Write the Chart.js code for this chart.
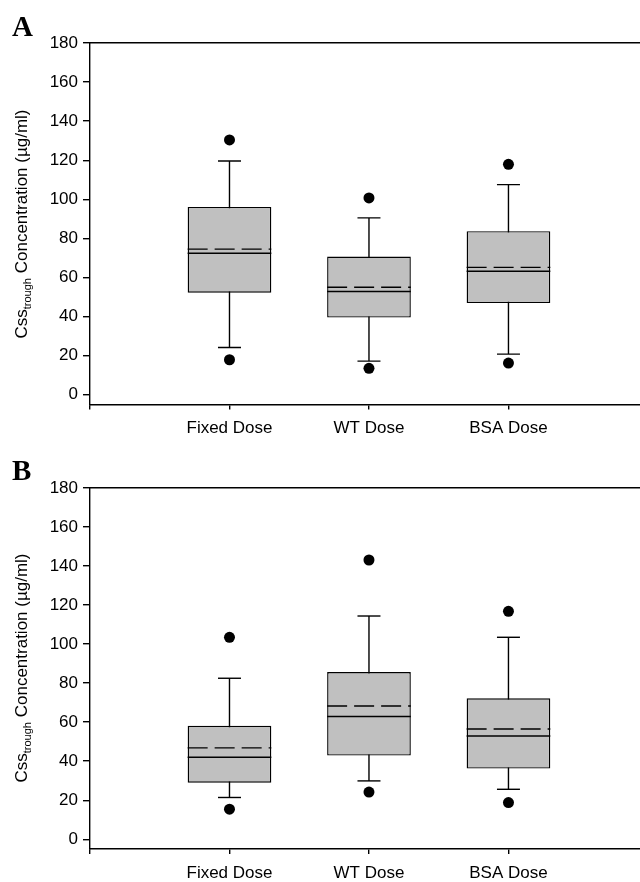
<!DOCTYPE html>
<html>
<head>
<meta charset="utf-8">
<script src="https://cdn.jsdelivr.net/npm/chart.js@4.4.1/dist/chart.umd.min.js"></script>
<style>
  html, body { margin: 0; padding: 0; background: #fff; }
  body { width: 640px; height: 882px; position: relative; overflow: hidden; font-family: "Liberation Sans", Arial, sans-serif; }
  .panel { position: absolute; left: 0; width: 640px; }
  .letter { position: absolute; font-family: "Liberation Serif", "Times New Roman", serif; font-weight: bold; font-size: 29px; line-height: 1; color: #000; }
  .ytitle { position: absolute; white-space: nowrap; font-size: 17px; line-height: 1; color: #000;
            transform: translate(-50%, -50%) rotate(-90deg); }
  .ytitle sub { font-size: 11px; vertical-align: -4px; }
</style>
</head>
<body>
<div class="panel" style="top:0;height:440px;"><canvas id="cA" width="640" height="440"></canvas></div>
<div class="panel" style="top:444px;height:438px;"><canvas id="cB" width="640" height="438"></canvas></div>
<div class="letter" style="left:12px;top:12px;">A</div>
<div class="letter" style="left:12px;top:456px;">B</div>
<div class="ytitle" style="left:23px;top:224px;">Css<sub>trough</sub> Concentration (µg/ml)</div>
<div class="ytitle" style="left:23px;top:668px;">Css<sub>trough</sub> Concentration (µg/ml)</div>
<script>
// ---- data ----
const categories = ['Fixed Dose', 'WT Dose', 'BSA Dose'];
const yTicks = [0, 20, 40, 60, 80, 100, 120, 140, 160, 180];

// Panel A
const aQ1      = [52.2, 39.5, 46.9];
const aQ3      = [96.1, 70.7, 83.7];
const aMedian  = [72.4, 52.8, 63.2];
const aMean    = [74.5, 55.0, 65.2];
const aWhiskLo = [24.2, 17.2, 20.8];
const aWhiskHi = [119.6, 90.5, 107.5];
const aOutLo   = [17.9, 13.5, 16.2];
const aOutHi   = [130.4, 100.7, 117.9];

// Panel B
const bQ1      = [29.0, 42.9, 36.2];
const bQ3      = [58.1, 85.7, 72.2];
const bMedian  = [42.0, 62.9, 52.9];
const bMean    = [46.8, 68.3, 56.5];
const bWhiskLo = [21.4, 29.9, 25.6];
const bWhiskHi = [82.5, 114.4, 103.5];
const bOutLo   = [15.4, 24.2, 18.8];
const bOutHi   = [103.5, 143.1, 116.8];

// ---- styling / layout ----
const BOX_FRACTION = 0.6;       // box width as fraction of category spacing
const HALF = BOX_FRACTION / 2;
const LW = 1.4;
const INK = '#000';

Chart.defaults.font.family = '"Liberation Sans", Arial, sans-serif';
Chart.defaults.font.size = 17;
Chart.defaults.color = INK;

function segs(list) {
  const out = [];
  list.forEach(s => { out.push({x: s[0], y: s[1]}, {x: s[2], y: s[3]}, {x: s[2], y: null}); });
  return out;
}

function build(id, q1, q3, med, mean, wLo, wHi, oLo, oHi, padTop, bottomPx) {
  const pos = categories.map((c, i) => i + 1);
  const canvas = document.getElementById(id);
  const H = canvas.height;
  new Chart(canvas, {
    data: {
      datasets: [
        { type: 'line', order: 10, data: segs(pos.map((p, i) => [p, wLo[i], p, wHi[i]])),
          borderColor: INK, borderWidth: LW, pointRadius: 0, spanGaps: false, fill: false },
        { type: 'scatter', order: 9, data: pos.flatMap((p, i) => [{x: p, y: wLo[i]}, {x: p, y: wHi[i]}]),
          pointStyle: 'line', pointRadius: 11.5, pointBorderColor: INK, pointBorderWidth: LW, pointHoverRadius: 11.5 },
        { type: 'bar', order: 8, data: pos.map((p, i) => ({x: p, y: [q1[i], q3[i]]})),
          backgroundColor: '#c0c0c0', borderColor: INK, borderWidth: LW, borderSkipped: false,
          barPercentage: BOX_FRACTION, categoryPercentage: 1 },
        { type: 'line', order: 2, data: segs(pos.map((p, i) => [p - HALF, med[i], p + HALF, med[i]])),
          borderColor: INK, borderWidth: LW, pointRadius: 0, spanGaps: false, fill: false },
        { type: 'line', order: 1, data: segs(pos.map((p, i) => [p - HALF, mean[i], p + HALF, mean[i]])),
          borderColor: INK, borderWidth: LW, borderDash: [20, 7], pointRadius: 0, spanGaps: false, fill: false },
        { type: 'scatter', order: 0, data: pos.flatMap((p, i) => [{x: p, y: oLo[i]}, {x: p, y: oHi[i]}]),
          pointStyle: 'circle', pointRadius: 5.5, backgroundColor: INK, borderColor: INK, pointBorderWidth: 0 }
      ]
    },
    options: {
      responsive: false,
      animation: false,
      events: [],
      layout: { autoPadding: false, padding: { top: padTop, left: 0, right: 0, bottom: 0 } },
      plugins: { legend: { display: false }, tooltip: { enabled: false } },
      scales: {
        x: {
          type: 'linear', position: 'bottom', min: 0, max: 3.943, offset: false,
          afterFit: s => { s.height = H - bottomPx; s.paddingRight = 0; s.paddingLeft = 0; },
          afterBuildTicks: s => { s.ticks = [0, 1, 2, 3].map(v => ({value: v})); },
          ticks: { autoSkip: false, maxRotation: 0, padding: 9,
                   callback: v => (v >= 1 && v <= categories.length) ? categories[v - 1] : '' },
          grid: { display: true, offset: false, drawOnChartArea: false, drawTicks: true, tickLength: 5, color: INK, lineWidth: LW },
          border: { display: true, color: INK, width: LW }
        },
        x2: {
          type: 'linear', position: 'top', min: 0, max: 3.943, offset: false,
          afterFit: s => { s.height = 0; s.paddingRight = 0; s.paddingLeft = 0; },
          ticks: { display: false },
          grid: { display: false, offset: false, drawTicks: false },
          border: { display: true, color: INK, width: LW }
        },
        y: {
          type: 'linear', position: 'left', min: -5, max: 180,
          afterFit: s => { s.width = 90; s.paddingTop = 0; s.paddingBottom = 0; },
          afterBuildTicks: s => { s.ticks = yTicks.map(v => ({value: v})); },
          ticks: { padding: 5, autoSkip: false },
          grid: { display: true, drawOnChartArea: false, drawTicks: true, tickLength: 7, color: INK, lineWidth: LW },
          border: { display: true, color: INK, width: LW }
        }
      }
    }
  });
}

build('cA', aQ1, aQ3, aMedian, aMean, aWhiskLo, aWhiskHi, aOutLo, aOutHi, 43, 404.5);
build('cB', bQ1, bQ3, bMedian, bMean, bWhiskLo, bWhiskHi, bOutLo, bOutHi, 44, 405);
</script>
</body>
</html>
